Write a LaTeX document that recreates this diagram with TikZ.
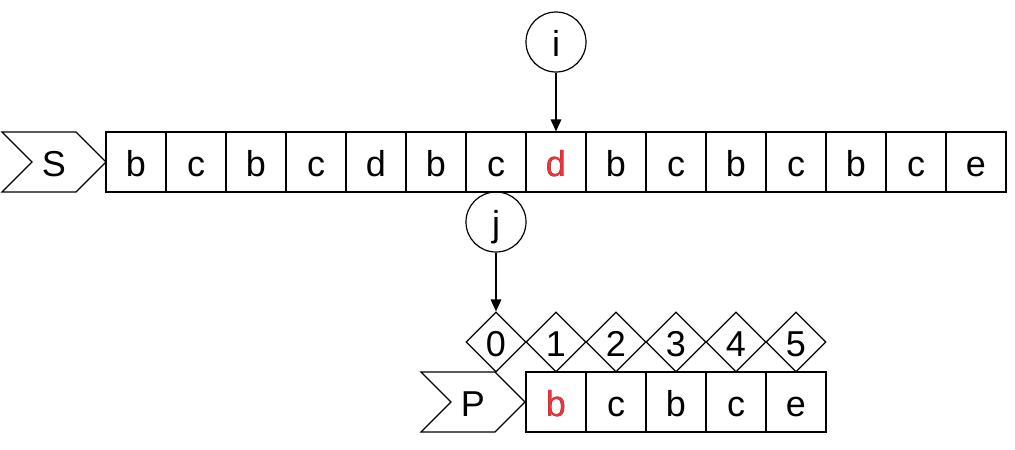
\documentclass[tikz,border=0pt]{standalone}
\usepackage{fontspec}
\setmainfont{Liberation Sans}
\usetikzlibrary{shapes.geometric,shapes.symbols,arrows.meta}
\definecolor{hitred}{RGB}{237,52,56}
\begin{document}
\begin{tikzpicture}[x=0.75pt,y=-0.75pt,line width=0.9pt,
  every node/.style={font=\fontsize{27pt}{30pt}\selectfont,inner sep=0pt,text height=21pt,text depth=0pt},
  cell/.style={draw,minimum width=45pt,minimum height=45pt},
  idx/.style={draw,diamond,minimum width=45pt,minimum height=45pt},
  ptr/.style={draw,circle,minimum size=45pt},
  tag/.style={draw,signal,signal to=east,signal from=west,signal pointer angle=90,minimum width=78pt,minimum height=45pt},
  arr/.style={-{Triangle[length=9pt,width=8pt]},line width=0.9pt}]
% bounding box in pixels of the reference
\useasboundingbox (0,0) rectangle (1015,450);
% text S and its cells
\node[tag] (S) at (54,162) {S};
\foreach \ch [count=\k from 0] in {b,c,b,c,d,b,c,d,b,c,b,c,b,c,e}
  \node[cell] (s\k) at (136+60*\k,162) {\ch};
\node[cell,text=hitred] at (s7) {d};
% pattern P, its cells and indices
\node[tag] (P) at (473,402) {P};
\foreach \ch [count=\k from 0] in {b,c,b,c,e}
  \node[cell] (p\k) at (556+60*\k,402) {\ch};
\node[cell,text=hitred] at (p0) {b};
\foreach \k in {0,...,5}
  \node[idx] (d\k) at (496+60*\k,342) {\k};
% pointers
\node[ptr] (i) at (556,42) {i};
\node[ptr] (j) at (496,222) {j};
\draw[arr] (i) -- (s7);
\draw[arr] (j) -- (d0);
\end{tikzpicture}
\end{document}
